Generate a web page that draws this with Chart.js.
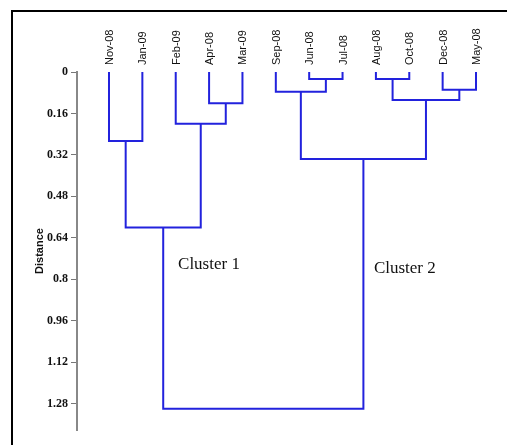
<!DOCTYPE html>
<html>
<head>
<meta charset="utf-8">
<script src="https://cdn.jsdelivr.net/npm/chart.js@4.4.1/dist/chart.umd.min.js"></script>
<style>
  html, body { margin: 0; padding: 0; background: #fff; }
  canvas { display: block; }
</style>
</head>
<body>
<canvas id="myChart" width="507" height="445"></canvas>
<script>
// leaves in dendrogram order (left to right)
const leaves = ['Nov-08', 'Jan-09', 'Feb-09', 'Apr-08', 'Mar-09', 'Sep-08',
                'Jun-08', 'Jul-08', 'Aug-08', 'Oct-08', 'Dec-08', 'May-08'];

// merges: node ids 0..11 are leaves, merge k creates node 12 + k
const mergeA = [3, 2, 0, 14, 6, 5, 8, 10, 18, 17, 15];
const mergeB = [4, 12, 1, 13, 7, 16, 9, 11, 19, 20, 21];
const mergeHeight = [0.121, 0.20, 0.266, 0.60, 0.027, 0.076, 0.027, 0.069, 0.108, 0.336, 1.30];

const yTicks = [0, 0.16, 0.32, 0.48, 0.64, 0.8, 0.96, 1.12, 1.28];

const clusterNames = ['Cluster 1', 'Cluster 2'];
const clusterX = [2.07, 7.94];
const clusterY = [0.745, 0.76];

// position / height of every node
var nodeX = leaves.map((l, i) => i);
var nodeH = leaves.map(() => 0);
var datasets = [];
for (var k = 0; k < mergeA.length; k++) {
    var a = mergeA[k], b = mergeB[k], h = mergeHeight[k];
    datasets.push({
        data: [
            {x: nodeX[a], y: nodeH[a]},
            {x: nodeX[a], y: h},
            {x: nodeX[b], y: h},
            {x: nodeX[b], y: nodeH[b]}
        ],
        showLine: true,
        borderColor: '#2222dd',
        borderWidth: 2,
        pointRadius: 0,
        fill: false
    });
    nodeX.push((nodeX[a] + nodeX[b]) / 2);
    nodeH.push(h);
}

const extras = {
    id: 'extras',
    beforeDraw(chart) {
        var c = chart.ctx;
        c.save();
        c.fillStyle = '#fff';
        c.fillRect(0, 0, chart.width, chart.height);
        c.restore();
    },
    afterDraw(chart) {
        var c = chart.ctx;
        var xs = chart.scales.x, ys = chart.scales.y;
        c.save();
        // frame
        c.strokeStyle = '#000';
        c.lineWidth = 2;
        c.beginPath();
        c.moveTo(12, chart.height);
        c.lineTo(12, 11);
        c.lineTo(chart.width, 11);
        c.stroke();
        // leaf labels
        c.fillStyle = '#111';
        c.font = '11px "Liberation Sans", Arial, sans-serif';
        c.textAlign = 'left';
        c.textBaseline = 'middle';
        leaves.forEach(function (l, i) {
            c.save();
            c.translate(xs.getPixelForValue(i) + 1, 65);
            c.rotate(-Math.PI / 2);
            c.fillText(l, 0, 0);
            c.restore();
        });
        // cluster labels
        c.font = '17px "Liberation Serif", "Times New Roman", serif';
        c.fillStyle = '#111';
        c.textAlign = 'left';
        clusterNames.forEach(function (n, i) {
            c.fillText(n, xs.getPixelForValue(clusterX[i]), ys.getPixelForValue(clusterY[i]));
        });
        c.restore();
    }
};

new Chart(document.getElementById('myChart'), {
    type: 'scatter',
    data: { datasets: datasets },
    options: {
        responsive: false,
        animation: false,
        layout: { padding: { left: 33, right: 0, top: 72, bottom: 15 } },
        plugins: { legend: { display: false }, tooltip: { enabled: false } },
        scales: {
            x: { type: 'linear', display: false, min: -0.959, max: 11.929 },
            y: {
                type: 'linear',
                reverse: true,
                min: 0,
                max: 1.382,
                afterFit: function (scale) { scale.width = 44; },
                afterBuildTicks: function (scale) {
                    scale.ticks = yTicks.map(v => ({ value: v }));
                },
                ticks: {
                    color: '#111',
                    padding: 3,
                    font: { family: '"Liberation Serif", "Times New Roman", serif', size: 12, weight: 'bold' },
                    callback: v => String(v)
                },
                grid: { drawOnChartArea: false, drawTicks: true, tickLength: 6, color: '#777' },
                border: { display: true, color: '#888', width: 2 },
                title: {
                    display: true,
                    text: 'Distance',
                    color: '#111',
                    padding: 0,
                    font: { family: '"Liberation Sans", Arial, sans-serif', size: 11, weight: 'bold' }
                }
            }
        }
    },
    plugins: [extras]
});
</script>
</body>
</html>
